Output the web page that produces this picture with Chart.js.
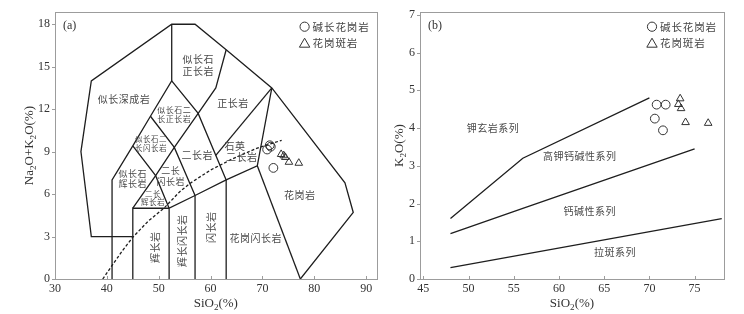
<!DOCTYPE html>
<html>
<head>
<meta charset="utf-8">
<script src="https://cdn.jsdelivr.net/npm/chart.js@4.4.1/dist/chart.umd.min.js"></script>
<style>
body { margin: 0; background: #fff; }
#wrapA { position: absolute; left: 0; top: 0; width: 382px; height: 314px; }
#wrapB { position: absolute; left: 382px; top: 0; width: 362px; height: 314px; }
</style>
</head>
<body>
<div id="wrapA"><canvas id="chartA" width="382" height="314"></canvas></div>
<div id="wrapB"><canvas id="chartB" width="362" height="314"></canvas></div>
<script>
// ---- tick labels
const xTicksA = [30, 40, 50, 60, 70, 80, 90];
const yTicksA = [0, 3, 6, 9, 12, 15, 18];
const xTicksB = [45, 50, 55, 60, 65, 70, 75];
const yTicksB = [0, 1, 2, 3, 4, 5, 6, 7];

// ---- samples
const seriesNames = ['碱长花岗岩', '花岗斑岩'];
// (a) SiO2 vs Na2O+K2O
const graniteSiO2A = [70.9, 71.4, 71.6, 72.1];
const graniteAlkA = [9.15, 9.45, 9.35, 7.85];
const porphyrySiO2A = [73.6, 74.1, 74.4, 75.1, 77.0];
const porphyryAlkA = [8.81, 8.72, 8.6, 8.26, 8.19];
// (b) SiO2 vs K2O
const graniteSiO2B = [70.8, 71.8, 70.6, 71.5];
const graniteK2OB = [4.62, 4.62, 4.25, 3.94];
const porphyrySiO2B = [73.4, 73.2, 73.5, 74.0, 76.5];
const porphyryK2OB = [4.78, 4.63, 4.52, 4.15, 4.13];

// ---- TAS field boundaries (SiO2, Na2O+K2O)
const tasLines = [
    [[45, 3], [37, 3], [35, 9], [37, 14], [52.5, 18], [57, 18], [63, 16.2], [71.8, 13.5], [85.9, 6.8], [87.5, 4.7], [77.3, 0]],
    [[41, 0], [41, 7], [45, 9.4], [48.4, 11.5], [52.5, 14], [52.5, 18]],
    [[45, 5], [49.4, 7.3], [53, 9.3], [57.6, 11.7], [61, 13.5], [63, 16.2]],
    [[52, 5], [49.4, 7.3], [45, 9.4]],
    [[57, 5.9], [53, 9.3], [48.4, 11.5]],
    [[63, 7], [57.6, 11.7], [52.5, 14]],
    [[45, 0], [45, 5], [52, 5]],
    [[52, 0], [52, 5], [57, 5.9], [63, 7], [69, 8], [71.8, 13.5]],
    [[57, 0], [57, 5.9]],
    [[63, 0], [63, 7]],
    [[69, 8], [77.3, 0]],
    [[61, 8.74], [71.8, 13.5]]
];
// alkaline / subalkaline divide
const alkCurveX = [39.2, 40.8, 43, 45, 48, 51, 54, 56, 60, 64, 69, 73.7];
const alkCurveY = [0, 0.85, 2.0, 2.95, 4.1, 5.0, 6.15, 6.75, 7.7, 8.45, 9.25, 9.8];

// ---- K2O series boundaries
const k2oLines = [
    [[48, 1.6], [56, 3.2], [70, 4.8]],
    [[48, 1.2], [56, 1.87], [75, 3.45]],
    [[48, 0.3], [78, 1.6]]
];

// ---- field names: [text lines, SiO2, y]
const tasNames = [
    [['似长深成岩'], 43.3, 12.7],
    [['似长石', '正长岩'], 57.6, 15.1],
    [['正长岩'], 64.3, 12.45],
    [['似长石二', '长正长岩'], 53.0, 11.65],
    [['似长石二', '长闪长岩'], 48.5, 9.55],
    [['二长岩'], 57.4, 8.77],
    [['石英'], 64.7, 9.35],
    [['二长岩'], 66.0, 8.6],
    [['似长石', '辉长岩'], 45.0, 7.08],
    [['二长', '闪长岩'], 52.3, 7.28],
    [['二长', '辉长岩'], 48.9, 5.72],
    [['辉长岩'], 49.4, 2.25],
    [['辉长闪长岩'], 54.6, 2.7],
    [['闪长岩'], 60.1, 3.66],
    [['花岗闪长岩'], 68.7, 2.9],
    [['花岗岩'], 77.2, 5.93]
];
const k2oNames = [
    ['钾玄岩系列', 52.7, 4.0],
    ['高钾钙碱性系列', 62.3, 3.25],
    ['钙碱性系列', 63.4, 1.79],
    ['拉斑系列', 66.2, 0.7]
];

const SERIF = '"Liberation Serif", "DejaVu Serif", serif';
const CJK = '"Noto Sans CJK SC", sans-serif';
const nameSize = {'似长石二长正长岩': 8, '似长石二长闪长岩': 7.5, '二长辉长岩': 7.5, '似长石辉长岩': 9, '二长闪长岩': 9};
const vertical = ['辉长岩', '辉长闪长岩', '闪长岩'];

function toPoints(xs, ys) {
    return xs.map((x, i) => ({x: x, y: ys[i]}));
}

function pairsToPoints(pairs) {
    return pairs.map(p => ({x: p[0], y: p[1]}));
}

function lineSet(points, dash) {
    return {
        data: points,
        showLine: true,
        pointRadius: 0,
        borderColor: '#1e1e1e',
        borderWidth: 1.3,
        borderDash: dash || [],
        fill: false
    };
}

function markerSets(cx, cy, tx, ty) {
    return [
        {data: toPoints(cx, cy), pointStyle: 'circle', pointRadius: 4.4, borderWidth: 1,
         borderColor: '#333', backgroundColor: 'rgba(0,0,0,0)', showLine: false},
        {data: toPoints(tx, ty), pointStyle: 'triangle', pointRadius: 4.4, borderWidth: 1,
         borderColor: '#333', backgroundColor: 'rgba(0,0,0,0)', showLine: false}
    ];
}

// text with subscripts: parts = [[text, isSub], ...]
function drawSubText(ctx, parts, size) {
    let total = 0;
    parts.forEach(p => {
        ctx.font = (p[1] ? size * 0.7 : size) + 'px ' + SERIF;
        total += ctx.measureText(p[0]).width;
    });
    let x = -total / 2;
    parts.forEach(p => {
        ctx.font = (p[1] ? size * 0.7 : size) + 'px ' + SERIF;
        ctx.fillText(p[0], x, p[1] ? size * 0.3 : 0);
        x += ctx.measureText(p[0]).width;
    });
}

const decorPlugin = {
    id: 'decor',
    afterDraw(chart, args, o) {
        const ctx = chart.ctx;
        const a = chart.chartArea;
        const sx = chart.scales.x;
        const sy = chart.scales.y;
        ctx.save();

        // frame + ticks
        ctx.strokeStyle = '#9c9c9c';
        ctx.lineWidth = 1;
        ctx.strokeRect(Math.round(a.left) + 0.5, Math.round(a.top) + 0.5, Math.round(a.width), Math.round(a.height));
        ctx.beginPath();
        sx.ticks.forEach(t => {
            const px = Math.round(sx.getPixelForValue(t.value)) + 0.5;
            ctx.moveTo(px, a.bottom);
            ctx.lineTo(px, a.bottom - 3);
        });
        sy.ticks.forEach(t => {
            const py = Math.round(sy.getPixelForValue(t.value)) + 0.5;
            ctx.moveTo(a.left, py);
            ctx.lineTo(a.left - 3, py);
        });
        ctx.stroke();

        // axis titles
        ctx.fillStyle = '#333';
        ctx.textBaseline = 'middle';
        ctx.textAlign = 'left';
        ctx.save();
        ctx.translate((a.left + a.right) / 2, 304);
        drawSubText(ctx, [['SiO', 0], ['2', 1], ['(%)', 0]], 13);
        ctx.restore();
        ctx.save();
        ctx.translate(o.yTitleX, (a.top + a.bottom) / 2);
        ctx.rotate(-Math.PI / 2);
        drawSubText(ctx, o.yTitle, 13);
        ctx.restore();

        // panel tag
        ctx.font = '12px ' + SERIF;
        ctx.fillText(o.tag, a.left + 8, a.top + 14);

        // field names
        ctx.fillStyle = '#4a4a4a';
        ctx.textAlign = 'center';
        ctx.letterSpacing = '0.5px';
        o.names.forEach(n => {
            const lines = Array.isArray(n[0]) ? n[0] : [n[0]];
            const full = lines.join('');
            const size = nameSize[full] || 10;
            const px = sx.getPixelForValue(n[1]);
            const py = sy.getPixelForValue(n[2]);
            ctx.font = size + 'px ' + CJK;
            ctx.save();
            ctx.translate(px, py);
            if (o.rotate && vertical.includes(full)) ctx.rotate(-Math.PI / 2);
            const lh = size * 1.15;
            lines.forEach((line, i) => {
                ctx.fillText(line, 0, (i - (lines.length - 1) / 2) * lh);
            });
            ctx.restore();
        });

        // legend
        const lx = a.right - 72;
        ctx.strokeStyle = '#333';
        ctx.lineWidth = 1;
        ctx.beginPath();
        ctx.arc(lx, a.top + 14.5, 4.6, 0, Math.PI * 2);
        ctx.stroke();
        const ty = a.top + 31;
        ctx.beginPath();
        ctx.moveTo(lx, ty - 5);
        ctx.lineTo(lx + 5.2, ty + 4);
        ctx.lineTo(lx - 5.2, ty + 4);
        ctx.closePath();
        ctx.stroke();
        ctx.fillStyle = '#444';
        ctx.textAlign = 'left';
        ctx.letterSpacing = '0.9px';
        ctx.font = '10.5px ' + CJK;
        ctx.fillText(seriesNames[0], lx + 8, a.top + 14.5);
        ctx.fillText(seriesNames[1], lx + 8, ty);
        ctx.restore();
    }
};

function scaleOpts(min, max, ticks, fixedSize, horizontal) {
    return {
        type: 'linear',
        min: min,
        max: max,
        grid: {display: false, drawTicks: false},
        border: {display: false},
        afterBuildTicks: s => { s.ticks = ticks.map(v => ({value: v})); },
        afterFit: s => {
            if (horizontal) s.height = fixedSize; else s.width = fixedSize;
        },
        ticks: {
            padding: horizontal ? 3 : 5,
            color: '#333',
            font: {family: SERIF, size: 12},
            maxRotation: 0,
            autoSkip: false
        }
    };
}

function makeChart(id, datasets, xs, ys, padRight, plugOpts) {
    return new Chart(document.getElementById(id), {
        type: 'scatter',
        data: {datasets: datasets},
        options: {
            responsive: false,
            animation: false,
            events: [],
            layout: {padding: {left: 0, top: 9, right: padRight, bottom: 0}},
            scales: {x: xs, y: ys},
            plugins: {legend: {display: false}, tooltip: {enabled: false}, decor: plugOpts}
        },
        plugins: [decorPlugin]
    });
}

const dataA = tasLines.map(l => lineSet(pairsToPoints(l)));
dataA.push(lineSet(toPoints(alkCurveX, alkCurveY), [3, 2]));
markerSets(graniteSiO2A, graniteAlkA, porphyrySiO2A, porphyryAlkA).forEach(d => dataA.push(d));

makeChart('chartA', dataA,
    scaleOpts(30, 92, xTicksA, 35, true),
    scaleOpts(0, 18.85, yTicksA, 55, false),
    4,
    {tag: '(a)', yTitleX: 30, rotate: true, names: tasNames,
     yTitle: [['Na', 0], ['2', 1], ['O+K', 0], ['2', 1], ['O(%)', 0]]});

const dataB = k2oLines.map(l => lineSet(pairsToPoints(l)));
markerSets(graniteSiO2B, graniteK2OB, porphyrySiO2B, porphyryK2OB).forEach(d => dataB.push(d));

makeChart('chartB', dataB,
    scaleOpts(44.63, 78.25, xTicksB, 35, true),
    scaleOpts(0, 7.07, yTicksB, 38, false),
    20,
    {tag: '(b)', yTitleX: 18, rotate: false, names: k2oNames,
     yTitle: [['K', 0], ['2', 1], ['O(%)', 0]]});
</script>
</body>
</html>
